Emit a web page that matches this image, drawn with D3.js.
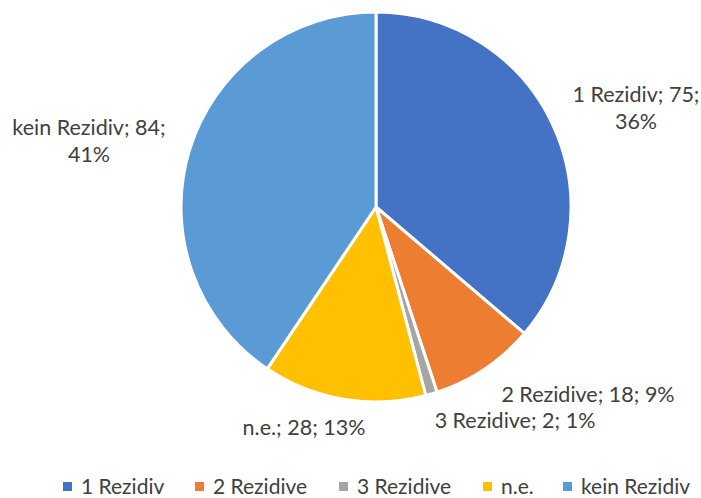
<!DOCTYPE html>
<html><head><meta charset="utf-8">
<script src="https://cdn.jsdelivr.net/npm/d3@7"></script>
<style>body{margin:0;background:#fff}svg{display:block}text{font-family:Lato,"Open Sans",sans-serif;fill:#404040}</style>
</head><body><svg id="c" width="701" height="498"></svg>
<script>
const categories = ["1 Rezidiv","2 Rezidive","3 Rezidive","n.e.","kein Rezidiv"];
const values = [75,18,2,28,84];
const percentLabels = ["36%","9%","1%","13%","41%"];
const colors = ["#4472C4","#ED7D31","#A5A5A5","#FFC000","#5B9BD5"];

// layout: label anchor offsets from pie centre, and line breaks
const labelLayout = [
  {dx:260, dy:-112, lines:["1 Rezidiv; 75;","36%"]},
  {dx:212, dy:188, lines:["2 Rezidive; 18; 9%"]},
  {dx:139, dy:214, lines:["3 Rezidive; 2; 1%"]},
  {dx:-72, dy:221, lines:["n.e.; 28; 13%"]},
  {dx:-287, dy:-79, lines:["kein Rezidiv; 84;","41%"]}
];

const svg = d3.select("#c");
const cx = 376, cy = 207, r = 195;
const g = svg.append("g").attr("transform",`translate(${cx},${cy})`);
const pie = d3.pie().sort(null).value(d=>d)(values);
const arc = d3.arc().innerRadius(0).outerRadius(r);
g.selectAll("path").data(pie).join("path")
  .attr("d",arc).attr("fill",(d,i)=>colors[i])
  .attr("stroke","#fff").attr("stroke-width",3).attr("stroke-linejoin","round");

const fs = 21.5;
labelLayout.forEach((L,i)=>{
  const t = g.append("text").attr("text-anchor","middle").attr("font-size",fs)
    .attr("transform",`translate(${L.dx},${L.dy})`);
  L.lines.forEach((ln,j)=>t.append("tspan").attr("x",0).attr("y",j*27+7).text(ln));
});

// legend
const legend = svg.append("g");
const legX = [68,200,344,488,568];
categories.forEach((c,i)=>{
  legend.append("rect").attr("x",legX[i]-5).attr("y",482).attr("width",9).attr("height",9).attr("fill",colors[i]);
  legend.append("text").attr("x",legX[i]+13).attr("y",494).attr("font-size",21).text(c);
});
</script></body></html>
